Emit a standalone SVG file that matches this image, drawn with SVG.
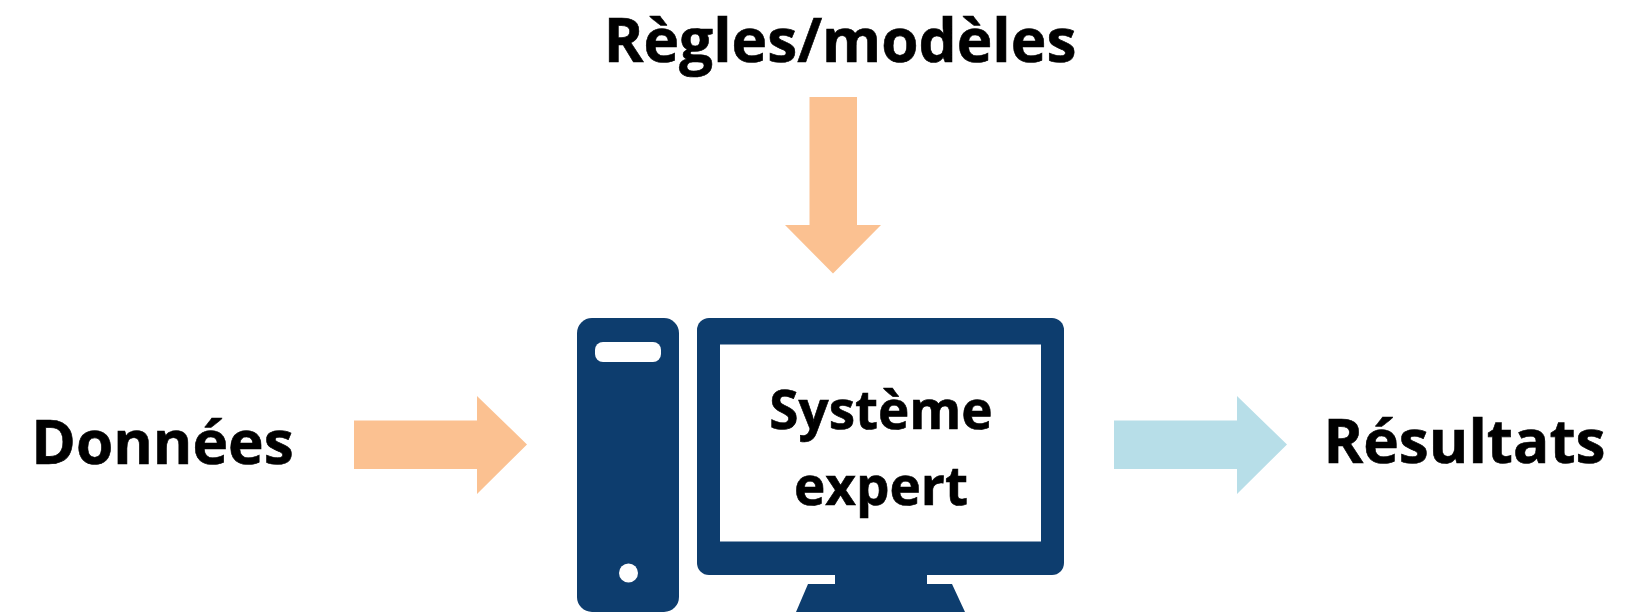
<svg xmlns="http://www.w3.org/2000/svg" width="1648" height="613" viewBox="0 0 1648 613">
<style>
.l{font-family:"Open Sans","Noto Sans","Liberation Sans",sans-serif;font-weight:700;fill:#000;stroke:#000;stroke-width:0.6px;text-anchor:middle}
.big{font-size:60.300px}
.mid{font-size:53px}
.dark{fill:#0f3d6e}
.hole{fill:#fff}
.warm{fill:#fbc191}
.cool{fill:#b7dee8}
.soft{filter:url(#soft)}
</style>
<defs><filter id="soft" x="-5%" y="-5%" width="110%" height="110%"><feGaussianBlur stdDeviation="0.7"/></filter></defs>
<rect width="1648" height="613" fill="#fff"/>
<g id="connectors">
<polygon id="arrow-regles" class="warm" points="809.500,97 857,97 857,225 881,225 833,273.500 785,225 809.500,225"/>
<polygon id="arrow-donnees" class="warm" points="354,420.500 477,420.500 477,396 527,444.500 477,494 477,469 354,469"/>
<polygon id="arrow-resultats" class="cool" points="1114,420.500 1237,420.500 1237,396 1287,444.500 1237,494 1237,469 1114,469"/>
</g>
<g id="node-regles"><text class="l big" x="840" y="62">Règles/modèles</text></g>
<g id="node-donnees"><text class="l big" x="162.500" y="463.500">Données</text></g>
<g id="node-resultats"><text class="l big" x="1464.500" y="463">Résultats</text></g>
<g id="node-tower">
<g class="soft">
<rect class="dark" x="577" y="318" width="102" height="294" rx="15"/>
<rect class="hole" x="595" y="342" width="66" height="20" rx="8"/>
<circle class="hole" cx="628.500" cy="573" r="9.500"/>
</g>
</g>
<g id="node-systeme">
<g class="soft">
<rect class="dark" x="697" y="318" width="367" height="257" rx="12"/>
<polygon class="dark" points="835,570 927,570 927,584 952,584 965,612 796,612 808,584 835,584"/>
<rect class="hole" x="720" y="344.500" width="321" height="197"/>
</g>
<text class="l mid" x="881" y="429">Système</text>
<text class="l mid" x="881" y="505">expert</text>
</g>
</svg>
